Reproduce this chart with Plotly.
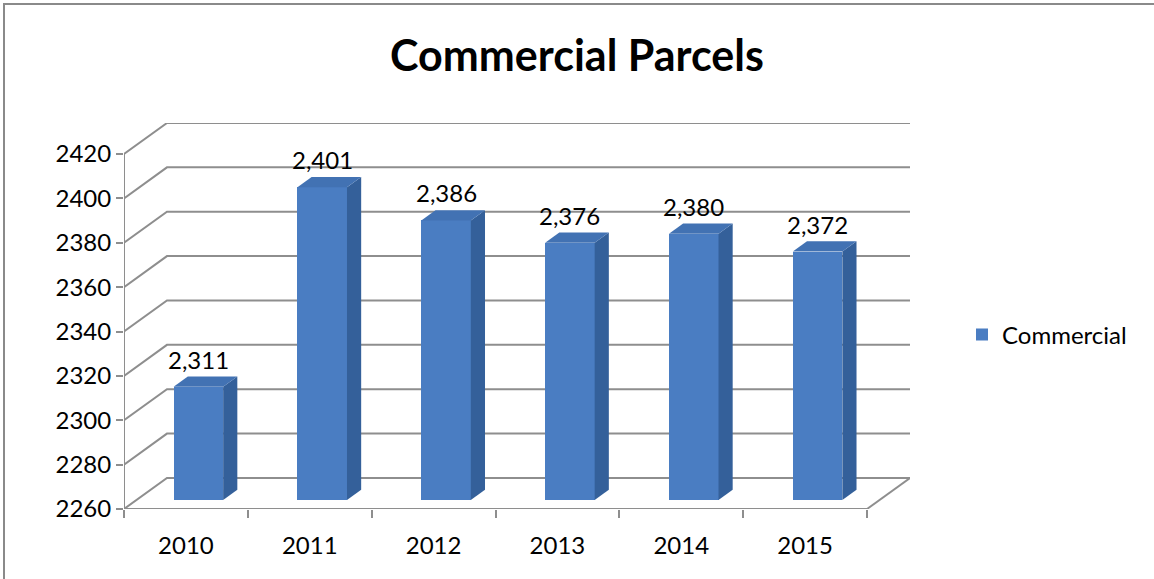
import plotly.graph_objects as go

# ---- data ----
years = ["2010", "2011", "2012", "2013", "2014", "2015"]
values = [2311, 2401, 2386, 2376, 2380, 2372]
y_ticks = [2260, 2280, 2300, 2320, 2340, 2360, 2380, 2400, 2420]
series_name = "Commercial"
title_text = "Commercial Parcels"

# ---- 3D projection parameters (depth offsets in axis units) ----
DX = 0.347      # horizontal shift of back wall (category units)
DY = 14.0       # vertical shift of back wall (value units)
F_FRONT = 0.29  # depth fraction of bar front face
F_BACK = 0.62   # depth fraction of bar back face
BAR_W = 0.40
Y0 = y_ticks[0]
n = len(years)

grid_col = "#8e8e8e"
front_col = "#4a7dc2"
side_col = "#34609a"
top_col = "#4272b3"
font_fam = "Lato, 'Open Sans', sans-serif"
FS = 24

fig = go.Figure()

shapes = []
for v in y_ticks:
    shapes.append(dict(type="path", xref="x", yref="y", layer="below",
                       path=f"M {-0.5},{v} L {-0.5+DX},{v+DY} L {n-0.5+DX},{v+DY}",
                       line=dict(color=grid_col, width=2)))
shapes.append(dict(type="line", xref="x", yref="y", layer="below",
                   x0=n-0.5, y0=Y0, x1=n-0.5+DX, y1=Y0+DY,
                   line=dict(color=grid_col, width=2)))
shapes.append(dict(type="line", xref="x", yref="y", layer="below",
                   x0=-0.5, y0=Y0, x1=n-0.5, y1=Y0,
                   line=dict(color=grid_col, width=2)))
shapes.append(dict(type="line", xref="x", yref="y", layer="below",
                   x0=-0.5, y0=Y0, x1=-0.5, y1=y_ticks[-1],
                   line=dict(color=grid_col, width=2)))

xs = [i + F_FRONT * DX for i in range(n)]
base = Y0 + F_FRONT * DY
ddx = (F_BACK - F_FRONT) * DX
ddy = (F_BACK - F_FRONT) * DY

fig.add_trace(go.Bar(
    x=xs, y=[v - Y0 for v in values], base=base, width=BAR_W,
    marker=dict(color=front_col, line=dict(width=0)),
    name=series_name, showlegend=True, hoverinfo="skip"))

for x, v in zip(xs, values):
    xl, xr = x - BAR_W / 2, x + BAR_W / 2
    top = v + F_FRONT * DY
    fig.add_trace(go.Scatter(
        x=[xr, xr, xr + ddx, xr + ddx, xr],
        y=[base, top, top + ddy, base + ddy, base],
        fill="toself", fillcolor=side_col, mode="lines",
        line=dict(width=0, color=side_col), showlegend=False, hoverinfo="skip"))
    fig.add_trace(go.Scatter(
        x=[xl, xr, xr + ddx, xl + ddx, xl],
        y=[top, top, top + ddy, top + ddy, top],
        fill="toself", fillcolor=top_col, mode="lines",
        line=dict(width=0, color=top_col), showlegend=False, hoverinfo="skip"))

annotations = []
for x, v in zip(xs, values):
    annotations.append(dict(x=x, y=v + F_FRONT * DY, xref="x", yref="y",
                            text=f"{v:,}", showarrow=False, yanchor="bottom",
                            yshift=11, font=dict(size=FS, color="black", family=font_fam)))

L, R, T, B = 124, 244, 123, 70
W, H = 1154, 579
pw, ph = W - L - R, H - T - B
def px(xp): return (xp - L) / pw
def py(yp): return (H - B - yp) / ph
shapes.append(dict(type="rect", xref="paper", yref="paper",
                   x0=px(4), x1=px(1170), y0=py(595), y1=py(4),
                   line=dict(color="#8a8a8a", width=2), layer="below"))

fig.update_layout(
    width=W, height=H,
    margin=dict(l=L, r=R, t=T, b=B),
    paper_bgcolor="white", plot_bgcolor="white",
    title=dict(text=f"<b>{title_text}</b>", x=0.5, xref="container", xanchor="center",
               y=1 - 56 / H, yref="container", yanchor="middle",
               font=dict(size=43, color="black", family=font_fam)),
    font=dict(family=font_fam, color="black"),
    shapes=shapes, annotations=annotations,
    bargap=0,
    showlegend=True,
    legend=dict(x=px(962), y=py(335), xanchor="left", yanchor="middle",
                font=dict(size=FS, color="black", family=font_fam),
                bgcolor="rgba(0,0,0,0)"),
    xaxis=dict(range=[-0.5, n - 0.5 + DX], tickmode="array", tickvals=list(range(n)),
               ticktext=years, ticks="", showgrid=False, zeroline=False, showline=False,
               tickfont=dict(size=FS, color="black", family=font_fam),
               ticklabelstandoff=20,
               minor=dict(tickmode="array", tickvals=[i - 0.5 for i in range(n + 1)],
                          ticks="outside", ticklen=8, tickcolor=grid_col, tickwidth=2,
                          showgrid=False),
               fixedrange=True),
    yaxis=dict(range=[Y0, y_ticks[-1] + DY], tickmode="array", tickvals=y_ticks,
               ticktext=[str(t) for t in y_ticks], ticks="outside", ticklen=7,
               tickcolor=grid_col, tickwidth=2, showgrid=False, zeroline=False,
               showline=False, tickfont=dict(size=FS, color="black", family=font_fam),
               fixedrange=True),
)

fig.write_html("out.html", config={"displayModeBar": False},
               post_script="document.body.style.margin='0';document.body.style.overflow='hidden';")
